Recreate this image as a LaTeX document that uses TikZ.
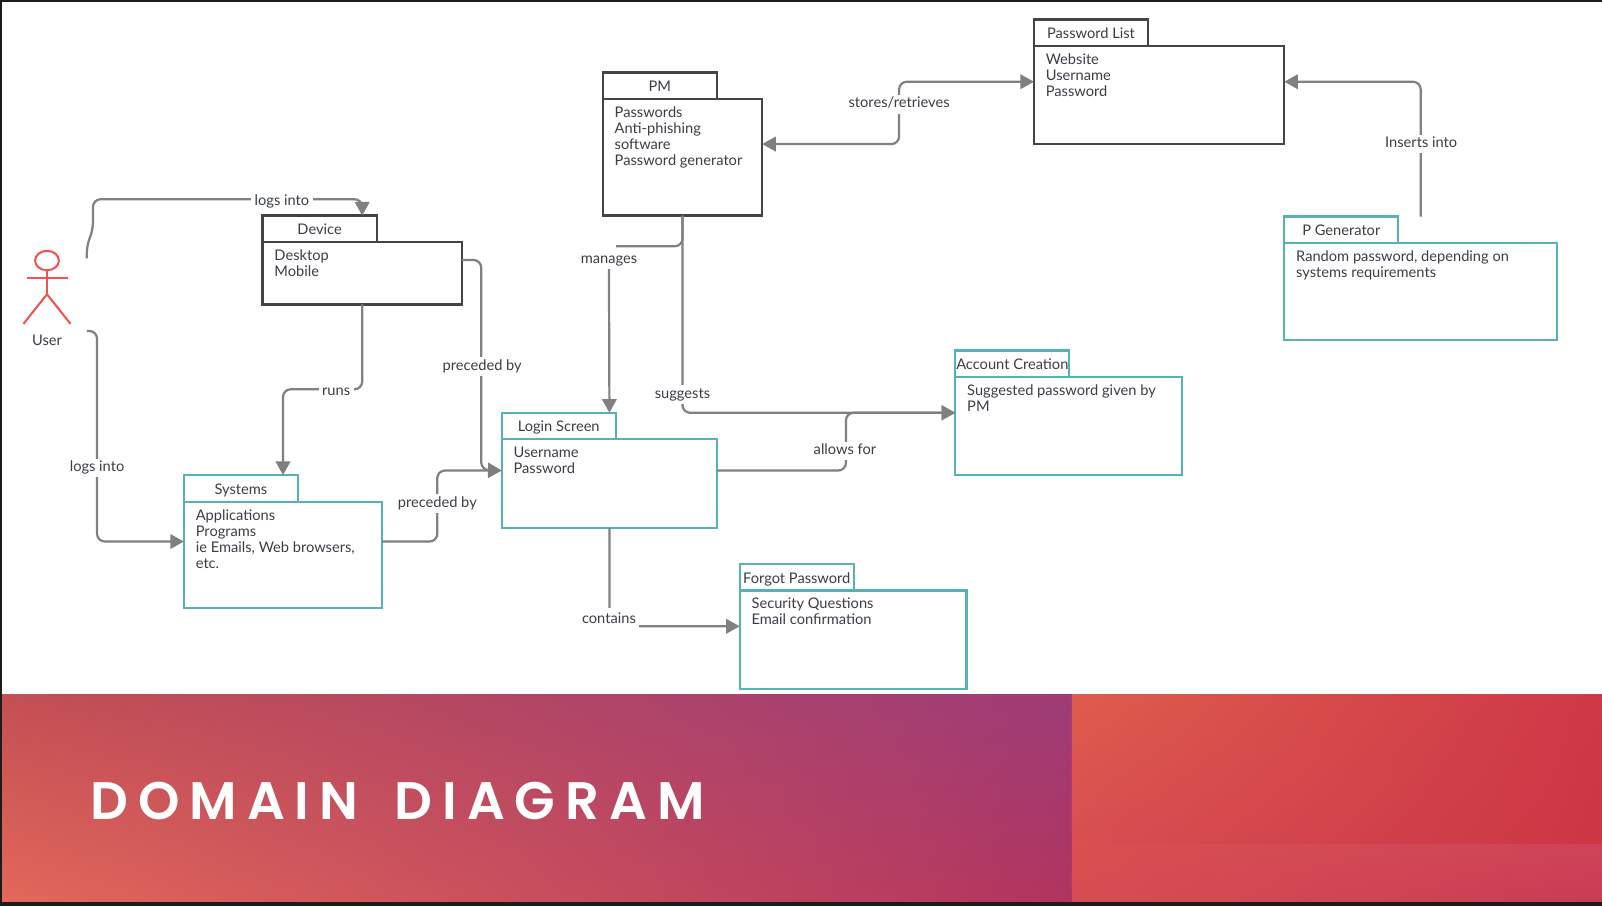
\documentclass[tikz,border=0pt]{standalone}
\usepackage{fontspec}
\setmainfont{Lato}
\newfontfamily\titlefont[LetterSpace=19,WordSpace=1.6]{Poppins SemiBold}
\usetikzlibrary{shapes,shadings,arrows.meta,fit}
\definecolor{boxdark}{HTML}{444444}
\definecolor{boxteal}{HTML}{56B2B4}
\definecolor{linegray}{HTML}{808080}
\definecolor{inktext}{HTML}{3A3F46}
\definecolor{actorred}{HTML}{F0524F}
\definecolor{frame}{HTML}{1C1C1C}
\definecolor{leftUL}{HTML}{C44F53}
\definecolor{leftUR}{HTML}{9E3C78}
\definecolor{leftLL}{HTML}{E2685A}
\definecolor{leftLR}{HTML}{B0345F}
\definecolor{rightUL}{HTML}{DE5C4C}
\definecolor{rightUR}{HTML}{CE3848}
\definecolor{rightLL}{HTML}{D84E52}
\definecolor{rightLR}{HTML}{CB3644}
\definecolor{bandUL}{HTML}{D95050}
\definecolor{bandUR}{HTML}{CD4458}
\definecolor{bandLL}{HTML}{D84C52}
\definecolor{bandLR}{HTML}{CB3A55}
\tikzstyle{line} = [draw, color=linegray, line width=1.3pt, rounded corners=4.5pt]
\tikzstyle{tipline} = [line, -{Triangle[length=8pt,width=8.5pt]}]
\tikzstyle{darkbody} = [rectangle, draw=boxdark, fill=white, line width=1.3pt, anchor=north west,
  inner sep=0pt, outer sep=0pt]
\tikzstyle{tealbody} = [darkbody, draw=boxteal]
\tikzstyle{darktab} = [darkbody, anchor=south west, minimum width=67pt, minimum height=15.6pt,
  text height=6.8pt, text depth=0pt, font=\fontsize{8.6}{9.4}\selectfont, text=inktext]
\tikzstyle{tealtab} = [darktab, draw=boxteal]
\tikzstyle{listing} = [anchor=north west, align=left, inner xsep=6.8pt, inner ysep=4.3pt,
  font=\fontsize{8.6}{9.4}\selectfont, text=inktext]
\tikzstyle{whole} = [fit=#1, inner sep=0pt, outer sep=0pt]
\tikzstyle{edgelabel} = [fill=white, inner xsep=2pt, inner ysep=1.5pt, text height=6.2pt, text depth=1.8pt,
  font=\fontsize{8.6}{9.4}\selectfont, text=inktext]
\tikzstyle{actor} = [draw=actorred, line width=1.2pt]

\begin{document}
\begin{tikzpicture}[x=0.6pt, y=-0.6pt]
  \useasboundingbox (0,0) rectangle (1568,887);
  % frame and banner
  \fill [frame] (0,0) rectangle (1568,887);
  \fill [white] (2,2) rectangle (1568,680);
  \shade [upper left=leftUL, upper right=leftUR, lower left=leftLL, lower right=leftLR]
    (2,680) rectangle (1049,882);
  \shade [upper left=rightUL, upper right=rightUR, lower left=rightLL, lower right=rightLR]
    (1049,680) rectangle (1568,827);
  \shade [upper left=bandUL, upper right=bandUR, lower left=bandLL, lower right=bandLR]
    (1049,827) rectangle (1568,882);
  \node [anchor=base west, inner sep=0pt, text=white, font=\titlefont\fontsize{31}{31}\selectfont]
    (title) at (88,802) {DOMAIN DIAGRAM};

  % packages
  \node [darkbody, minimum width=147pt, minimum height=57.6pt] (listbody) at (1012,45) {};
  \node [darktab] (listtab) at (listbody.north west) {Password List};
  \node [listing] (listtext) at (listbody.north west) {Website\\Username\\Password};
  \node [whole={(listtab) (listbody)}] (list) {};

  \node [darkbody, minimum width=93.6pt, minimum height=68.4pt] (pmbody) at (590,97) {};
  \node [darktab] (pmtab) at (pmbody.north west) {PM};
  \node [listing] (pmtext) at (pmbody.north west) {Passwords\\Anti-phishing\\software\\Password generator};
  \node [whole={(pmtab) (pmbody)}] (pm) {};

  \node [darkbody, minimum width=117pt, minimum height=36.6pt] (devicebody) at (257,237) {};
  \node [darktab] (devicetab) at (devicebody.north west) {Device};
  \node [listing] (devicetext) at (devicebody.north west) {Desktop\\Mobile};
  \node [whole={(devicetab) (devicebody)}] (device) {};

  \node [tealbody, minimum width=116.4pt, minimum height=62.4pt] (systemsbody) at (180,491) {};
  \node [tealtab] (systemstab) at (systemsbody.north west) {Systems};
  \node [listing] (systemstext) at (systemsbody.north west) {Applications\\Programs\\ie Emails, Web browsers,\\etc.};
  \node [whole={(systemstab) (systemsbody)}] (systems) {};

  \node [tealbody, minimum width=126.6pt, minimum height=52.2pt] (loginbody) at (491,430) {};
  \node [tealtab] (logintab) at (loginbody.north west) {Login Screen};
  \node [listing] (logintext) at (loginbody.north west) {Username\\Password};
  \node [whole={(logintab) (loginbody)}] (login) {};

  \node [tealbody, minimum width=133.2pt, minimum height=57.6pt] (accountbody) at (935,369) {};
  \node [tealtab] (accounttab) at (accountbody.north west) {Account Creation};
  \node [listing] (accounttext) at (accountbody.north west) {Suggested password given by\\PM};
  \node [whole={(accounttab) (accountbody)}] (account) {};

  \node [tealbody, minimum width=133.2pt, minimum height=57.6pt] (forgotbody) at (724,578) {};
  \node [tealtab] (forgottab) at (forgotbody.north west) {Forgot Password};
  \node [listing] (forgottext) at (forgotbody.north west) {Security Questions\\Email confirmation};
  \node [whole={(forgottab) (forgotbody)}] (forgot) {};

  \node [tealbody, minimum width=160.2pt, minimum height=57pt] (genbody) at (1257,238) {};
  \node [tealtab] (gentab) at (genbody.north west) {P Generator};
  \node [listing] (gentext) at (genbody.north west) {Random password, depending on\\systems requirements};
  \node [whole={(gentab) (genbody)}] (gen) {};

  % actor
  \node [ellipse, actor, minimum width=14pt, minimum height=11.4pt, inner sep=0pt, outer sep=0pt] (userhead) at (46,255) {};
  \coordinate (userhip) at (46,288);
  \coordinate (userleft) at (23,317);
  \coordinate (userright) at (69,317);
  \draw [actor] (userhead.south) -- (userhip);
  \draw [actor] (userleft) -- (userhip) -- (userright);
  \draw [actor] (26,272) -- (67,272);
  \node [font=\fontsize{8.6}{9.4}\selectfont, text=inktext, inner sep=1pt] (user) at (46,333) {User};
  \coordinate (usertop) at (85,253);
  \coordinate (userlow) at (85,324);
  \coordinate (managesend) at (603,241);

  % connectors
  \path [tipline] (usertop) -- (85,240) -- (91,225) -- (91,195) -| (device.north);
  \path [tipline] (userlow) -- (95,324) |- (systems.west);
  \path [tipline] (device.east) -| (471,460) -- (login.west);
  \path [tipline] (device.south) |- (277,381) -- (systems.north);
  \path [tipline] (systems.east) -| (428,460.5) -- (login.west);
  \path [tipline] (pm.south) |- (account.west);
  \path [tipline] (login.east) -| (828,404) -- (account.west);
  \path [tipline] (login.south) |- (forgot.west);
  \path [tipline, {Triangle[length=8pt,width=8.5pt]}-{Triangle[length=8pt,width=8.5pt]}] (pm.east) -| (880,80) -- (list.west);
  \path [tipline] (gen.north) |- (list.east);

  % connector labels
  \node [edgelabel] (logsdevice) at (276,197) {logs into};
  \node [edgelabel] (logssystems) at (95,458) {logs into};
  \node [edgelabel] (runs) at (329,383) {runs};
  \node [edgelabel] (precededA) at (472,359) {preceded by};
  \node [edgelabel] (precededB) at (428,493) {preceded by};
  \node [edgelabel] (manages) at (596,254) {manages};
  \node [edgelabel] (suggests) at (668,386) {suggests};
  \node [edgelabel] (allows) at (827,441.5) {allows for};
  \node [edgelabel, text height=7.5pt, text depth=3.3pt] (contains) at (596,606.5) {contains};
  \node [edgelabel] (stores) at (880,102) {stores/retrieves};
  \node [edgelabel] (inserts) at (1391,141) {Inserts into};
  \path [tipline] (manages) -- (login.north);
  \path [line] (pm.south) |- (managesend);
\end{tikzpicture}
\end{document}
